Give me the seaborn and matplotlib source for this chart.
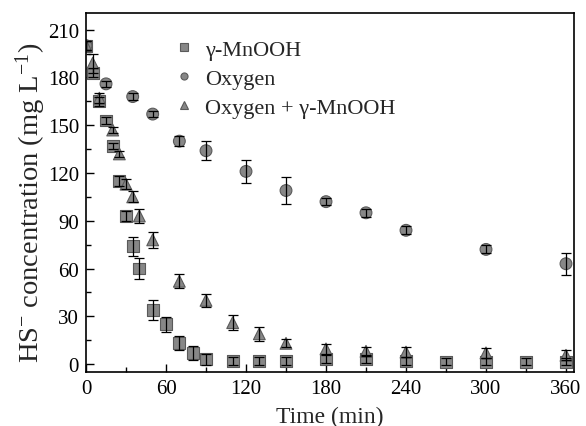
import matplotlib
matplotlib.use("Agg")
import matplotlib.pyplot as plt
import numpy as np
import pandas as pd
import seaborn as sns
from matplotlib.ticker import MultipleLocator

# HS- concentration over time (mg/L) with standard deviations
t_mnooh = [0, 5, 10, 15, 20, 25, 30, 35, 40, 50, 60, 70, 80, 90, 110, 130,
           150, 180, 210, 240, 270, 300, 330, 360]
hs_mnooh = [200, 183, 165, 153, 137, 115, 93, 74, 60, 34, 25, 13, 7, 3, 2, 2,
            2, 3, 3, 2, 1.5, 1.5, 1.5, 1.5]
err_mnooh = [3, 3, 3, 2, 2, 3, 3, 6, 6.3, 6.3, 4.7, 4.4, 4.4, 3.5, 2.5, 2.5,
             2.5, 2.5, 2.5, 2.5, 2, 2, 2, 2]

t_oxygen = [0, 15, 35, 50, 70, 90, 120, 150, 180, 210, 240, 300, 360]
hs_oxygen = [200, 176, 168, 157, 140, 134, 121, 109, 102, 95, 84, 72, 63]
err_oxygen = [3, 2, 2, 2, 3, 6, 7, 8.5, 2, 2.5, 2.5, 2.5, 7]

t_both = [0, 5, 10, 20, 25, 30, 35, 40, 50, 70, 90, 110, 130, 150, 180, 210,
          240, 300, 360]
hs_both = [200, 189, 167, 147, 132, 113, 105, 93, 78, 52, 40, 26, 19, 13, 9.5,
           8, 7.5, 7, 5.5]
err_both = [3, 6, 3, 2, 2, 3, 3.5, 4.5, 5, 4.5, 4, 4.5, 4.5, 2.5, 3, 3, 3, 3, 3]

series_names = ["γ-MnOOH", "Oxygen", "Oxygen + γ-MnOOH"]
x_ticks = [0, 60, 120, 180, 240, 300, 360]
y_ticks = [0, 30, 60, 90, 120, 150, 180, 210]

frames = []
for name, t, v, e in zip(series_names,
                         [t_mnooh, t_oxygen, t_both],
                         [hs_mnooh, hs_oxygen, hs_both],
                         [err_mnooh, err_oxygen, err_both]):
    frames.append(pd.DataFrame({"time": t, "hs": v, "err": e, "series": name}))
df = pd.concat(frames, ignore_index=True)

sns.set_style("ticks")
plt.rcParams["font.family"] = ["Liberation Serif", "DejaVu Serif"]
plt.rcParams["mathtext.fontset"] = "custom"
plt.rcParams["mathtext.rm"] = "Liberation Serif"
plt.rcParams["mathtext.it"] = "Liberation Serif:italic"

fig = plt.figure(figsize=(5.86, 4.27), dpi=100)
ax = fig.add_axes([0.1468, 0.1265, 0.8327, 0.8407])

sns.scatterplot(data=df, x="time", y="hs", style="series",
                markers={"γ-MnOOH": "s", "Oxygen": "o", "Oxygen + γ-MnOOH": "^"},
                style_order=series_names, color="#878787", edgecolor="#5a5a5a",
                linewidth=0.8, s=72, ax=ax, zorder=2)

for name in series_names:
    sub = df[df["series"] == name]
    ax.errorbar(sub["time"], sub["hs"], yerr=sub["err"], fmt="none",
                ecolor="black", elinewidth=0.9, capsize=3.5, capthick=0.9,
                zorder=3)

ax.set_xlim(0, 366)
ax.set_ylim(-5, 220.5)
ax.set_xticks(x_ticks)
ax.set_yticks(y_ticks)
ax.xaxis.set_minor_locator(MultipleLocator(30))
ax.yaxis.set_minor_locator(MultipleLocator(15))
ax.tick_params(which="both", direction="in", top=False, right=False,
               width=1.0, colors="black", labelsize=15, pad=5)
ax.tick_params(which="major", length=6)
ax.tick_params(which="minor", length=3.5)
for sp in ax.spines.values():
    sp.set_visible(True)
    sp.set_linewidth(1.2)
    sp.set_color("black")

ax.set_xlabel("Time (min)", fontsize=17, labelpad=6)
ax.set_ylabel(r"HS$^{-}$ concentration (mg L$^{-1}$)", fontsize=20.5)
ax.yaxis.set_label_coords(-0.078, 0.474)

leg = ax.legend(frameon=False, loc="upper left", bbox_to_anchor=(0.132, 0.982),
                markerscale=0.6, handlelength=1.2, handletextpad=0.37,
                labelspacing=0.38, fontsize=16)

fig.savefig("out.png", dpi=100)
